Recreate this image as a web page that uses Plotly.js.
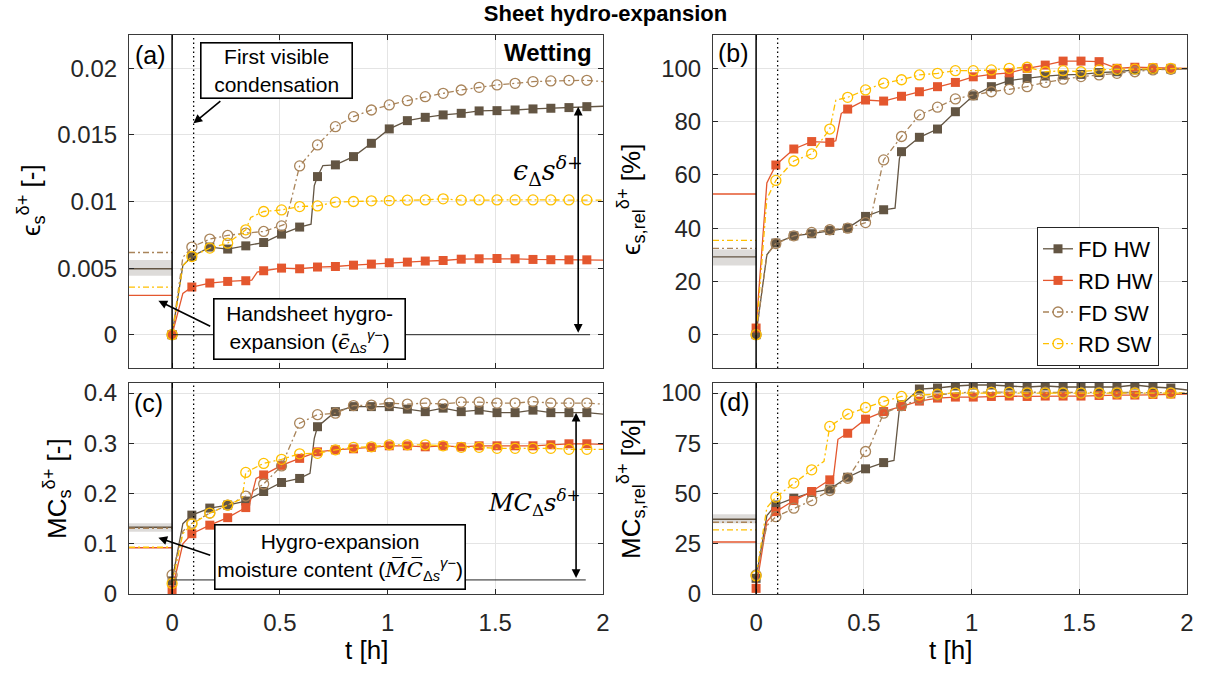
<!DOCTYPE html>
<html><head><meta charset="utf-8">
<script src="https://cdn.plot.ly/plotly-3.0.1.min.js"></script>
<style>html,body{margin:0;padding:0;background:#fff}#chart{width:1211px;height:673px}</style>
</head><body><div id="chart"></div>
<script>
const W = 1211, H = 673;
const seriesNames = ['FD HW', 'RD HW', 'FD SW', 'RD SW'];
// marker times [h]
const tM = [0,0.0917,0.175,0.258,0.342,0.425,0.508,0.592,0.675,0.758,0.842,0.925,1.008,1.092,1.175,1.258,1.342,1.425,1.508,1.592,1.675,1.758,1.842,1.925];

// (a) strain [-]
const aFDHW = [0,0.00587,0.00658,0.00643,0.00667,0.00692,0.00755,0.00808,0.01187,0.01275,0.01337,0.01437,0.01545,0.01607,0.01632,0.0165,0.01662,0.0168,0.01682,0.01687,0.01695,0.0170,0.01705,0.01712];
const aRDHW = [0,0.00358,0.00388,0.0040,0.00405,0.0048,0.0050,0.00495,0.00508,0.00512,0.00522,0.0053,0.0054,0.00545,0.00553,0.00557,0.00567,0.0057,0.00572,0.0057,0.00565,0.00563,0.00562,0.00562];
const aFDSW = [0,0.00658,0.00718,0.00745,0.00763,0.00775,0.00817,0.01267,0.01425,0.01562,0.01637,0.01687,0.01725,0.01757,0.01787,0.01812,0.01837,0.01857,0.01875,0.01887,0.019,0.01905,0.0191,0.0191];
const aRDSW = [0,0.00587,0.0065,0.00687,0.00787,0.00925,0.00937,0.00962,0.00967,0.00995,0.01,0.01005,0.01007,0.0101,0.01012,0.0102,0.0101,0.01012,0.01012,0.01012,0.01012,0.01012,0.01012,0.01012];
// extra curve points (between markers)
const aKt = [[0.05,0.645,0.66,0.70,2],[0.05,0.37,0.395,2],[0.05,0.525,2],[0.05,0.365,2]];
const aKv = [[0.0052,0.0083,0.0112,0.0127,0.01715],[0.0031,0.0041,0.0047,0.0056],[0.0058,0.0083,0.0190],[0.0052,0.0088,0.0101]];
const aRef = [0.00495,0.00295,0.00617,0.00357];
const aBand = [0.00443,0.0056];

// (b) relative strain [%]
const bFDHW = [0,34.4,37.1,37.9,39.1,40,44.4,46.9,68.7,74.1,77.2,83.7,89.7,93.1,95.4,96.2,97.1,97.5,97.7,98.4,98.7,99.4,99.6,99.7];
const bRDHW = [2.5,63.7,69.7,72.5,72.2,84.7,88.1,87.7,89.5,91.2,93.1,94.7,96.8,97.7,98.3,100,101.2,102.7,102.7,102.5,100,100.4,100.2,100];
const bFDSW = [0,34.2,37.1,38.4,39.4,40,42.1,65.6,74.4,82.5,85.4,88.5,90,91.2,92.1,93.1,94.7,95.9,96.9,97.5,98.1,98.7,99.4,99.6];
const bRDSW = [0,57.9,65.2,67.9,77.2,89.1,91.9,94.4,95.7,97.5,98.1,99.1,99.1,99.4,100,100.4,98.7,99.1,98.7,99.4,99.6,99.7,100,100];
const bKt = [[0.05,0.645,0.665,2],[0.05,0.37,0.395,2],[0.05,0.53,2],[0.05,0.37,2]];
const bKv = [[30,47.5,66,99.8],[57,72.8,83,100],[30,43,99.8],[51,88,100]];
const bRef = [29.2,52.8,32.4,35.4];
const bBand = [26,32];

// (c) moisture content [-]
const cFDHW = [0.026,0.157,0.171,0.177,0.185,0.204,0.222,0.230,0.333,0.363,0.373,0.373,0.373,0.368,0.363,0.37,0.363,0.366,0.361,0.361,0.366,0.361,0.361,0.361];
const cRDHW = [0.008,0.12,0.137,0.152,0.172,0.237,0.256,0.27,0.283,0.287,0.289,0.292,0.295,0.295,0.293,0.295,0.293,0.295,0.295,0.295,0.295,0.297,0.299,0.299];
const cFDSW = [0.038,0.141,0.161,0.177,0.195,0.219,0.255,0.34,0.357,0.36,0.375,0.376,0.38,0.378,0.38,0.378,0.382,0.382,0.38,0.38,0.383,0.38,0.38,0.38];
const cRDSW = [0.021,0.139,0.161,0.177,0.242,0.26,0.268,0.279,0.28,0.287,0.292,0.293,0.297,0.297,0.297,0.295,0.292,0.292,0.29,0.29,0.29,0.29,0.288,0.288];
const cKt = [[0.05,0.64,0.66,2],[0.05,0.36,0.39,2],[0.05,2],[0.05,0.325,2]];
const cKv = [[0.14,0.24,0.31,0.358],[0.10,0.18,0.23,0.298],[0.125,0.378],[0.12,0.19,0.288]];
const cRef = [0.133,0.092,0.131,0.093];
const cBand = [0.124,0.141];

// (d) relative moisture content [%]
const dFDHW = [7.8,44.3,47.7,50.5,52.2,58.1,62.3,65.4,94.2,102,102.5,103.5,104,104,103.5,103,103.5,103,103,103,103,104,103,102.5];
const dRDHW = [2.8,41,46.5,51,56.8,80,87,90.8,93.3,96,97.5,98,98,98.3,98.5,98.3,98.5,98.5,98.5,98.8,99,99,99.3,99.5];
const dFDSW = [9.5,38.5,42.7,46.5,51.5,57.6,70.9,90,93.7,97,99,100,100.5,100.5,100.5,100.5,100.5,100.3,100.3,100.3,100.5,100.3,100.3,100.2];
const dRDSW = [9,48.2,55.2,61.8,83.4,89.5,92.8,95.8,98.3,99,99.5,100,100,100.3,100.3,100,100,100,100,100,100,100,100,100];
const dKt = [[0.05,0.64,0.665,2],[0.05,0.36,0.38,2],[0.05,0.53,2],[0.05,0.315,2]];
const dKv = [[39,66.5,92,101.5],[36,59,77,99.5],[34,74,100],[43,66,100]];
const dRef = [37.2,25.9,35.7,31.9];
const dBand = [35.2,39.7];

// tick labels
const xTicks = [0,0.5,1,1.5,2];
const xTickText = ['0','0.5','1','1.5','2'];
const aTicks = [0,0.005,0.01,0.015,0.02], aTickText = ['0','0.005','0.01','0.015','0.02'];
const bTicks = [0,20,40,60,80,100], bTickText = ['0','20','40','60','80','100'];
const cTicks = [0,0.1,0.2,0.3,0.4], cTickText = ['0','0.1','0.2','0.3','0.4'];
const dTicks = [0,25,50,75,100], dTickText = ['0','25','50','75','100'];

const FONT = '"Liberation Sans", Arial, "DejaVu Sans", sans-serif';
const SERIF = '"DejaVu Serif", "Liberation Serif", serif';
const colors = ['#635543', '#e4572e', '#a9845a', '#ffc000'];
const symbols = ['square', 'square', 'circle-open', 'circle-open'];
const dashes = ['solid', 'solid', '6px,3px,2px,3px', '6px,3px,2px,3px'];

const panels = [
  {xa:'x', ya:'y', vals:[aFDHW,aRDHW,aFDSW,aRDSW], kt:aKt, kv:aKv, ref:aRef, band:aBand},
  {xa:'x2', ya:'y2', vals:[bFDHW,bRDHW,bFDSW,bRDSW], kt:bKt, kv:bKv, ref:bRef, band:bBand},
  {xa:'x3', ya:'y3', vals:[cFDHW,cRDHW,cFDSW,cRDSW], kt:cKt, kv:cKv, ref:cRef, band:cBand},
  {xa:'x4', ya:'y4', vals:[dFDHW,dRDHW,dFDSW,dRDSW], kt:dKt, kv:dKv, ref:dRef, band:dBand}
];

const traces = [];
panels.forEach(p => {
  traces.push({type:'scatter', mode:'lines', xaxis:p.xa, yaxis:p.ya,
    x:[-0.2,0,0,-0.2], y:[p.band[0],p.band[0],p.band[1],p.band[1]],
    fill:'toself', fillcolor:'rgba(165,160,155,0.38)', line:{width:0}, showlegend:false, hoverinfo:'skip'});
  for (let i = 0; i < 4; i++) {
    traces.push({type:'scatter', mode:'lines', xaxis:p.xa, yaxis:p.ya,
      x:[-0.2,0], y:[p.ref[i],p.ref[i]],
      line:{color:colors[i], width:1.4, dash:dashes[i]}, showlegend:false, hoverinfo:'skip'});
  }
  for (let i = 0; i < 4; i++) {
    const pts = tM.map((t,j) => [t, p.vals[i][j], 1]);
    p.kt[i].forEach((t,j) => pts.push([t, p.kv[i][j], 0]));
    pts.sort((u,v) => u[0]-v[0]);
    traces.push({type:'scatter', mode:'lines+markers', xaxis:p.xa, yaxis:p.ya,
      x:pts.map(q=>q[0]), y:pts.map(q=>q[1]),
      line:{color:colors[i], width:1.3, dash:dashes[i]},
      marker:{symbol:symbols[i], size:i<2?9:10, color:colors[i], opacity:pts.map(q=>q[2]),
              line:{color:colors[i], width:i<2?0:1.3}},
      showlegend:false, hoverinfo:'skip'});
  }
});
for (let i = 0; i < 4; i++) {
  traces.push({type:'scatter', mode:'lines+markers', xaxis:'x2', yaxis:'y2', x:[null], y:[null],
    name:seriesNames[i], line:{color:colors[i], width:1.3, dash:dashes[i]},
    marker:{symbol:symbols[i], size:i<2?9:10, color:colors[i], line:{color:colors[i], width:i<2?0:1.3}},
    showlegend:true, hoverinfo:'skip'});
}

const px = v => v / W, py = v => 1 - v / H;
const xL = [129/W, 603/W], xR = [713/W, 1187/W];
const yT = [py(368), py(35)], yB = [py(594), py(383)];

function xAxis(dom, anchor, labels) {
  return {domain:dom, anchor:anchor, range:[-0.2,2], tickvals:xTicks, ticktext:xTickText,
    showticklabels:labels, ticks:'inside', ticklen:5, tickcolor:'#262626', tickwidth:1,
    showline:true, linecolor:'#3a3a3a', linewidth:1, mirror:'ticks',
    showgrid:true, gridcolor:'#e4e4e4', gridwidth:1, zeroline:false, ticklabelstandoff:7,
    tickfont:{family:FONT, size:24, color:'#262626'}};
}
function yAxis(dom, anchor, rng, tv, tt) {
  return {domain:dom, anchor:anchor, range:rng, tickvals:tv, ticktext:tt,
    ticks:'inside', ticklen:5, tickcolor:'#262626', tickwidth:1,
    showline:true, linecolor:'#3a3a3a', linewidth:1, mirror:'ticks',
    showgrid:true, gridcolor:'#e4e4e4', gridwidth:1, zeroline:false, ticklabelstandoff:6,
    tickfont:{family:FONT, size:24, color:'#262626'}};
}

const shapes = [];
panels.forEach(p => {
  shapes.push({type:'line', xref:p.xa, yref:p.ya+' domain', x0:0, x1:0, y0:0, y1:1, line:{color:'black', width:1.5}});
  shapes.push({type:'line', xref:p.xa, yref:p.ya+' domain', x0:0.1, x1:0.1, y0:0, y1:1, line:{color:'black', width:1.3, dash:'1.5px,3px'}});
});
shapes.push({type:'line', xref:'x', yref:'y', x0:0, x1:1.94, y0:0, y1:0, line:{color:'#222', width:1}});
shapes.push({type:'line', xref:'x3', yref:'y3', x0:0, x1:1.92, y0:0.028, y1:0.028, line:{color:'#222', width:1}});

const ann = [];
function txt(x, y, text, size, opts) {
  ann.push(Object.assign({xref:'paper', yref:'paper', x:px(x), y:py(y), text:text, showarrow:false,
    xanchor:'center', yanchor:'middle', font:{family:FONT, size:size, color:'black'}}, opts || {}));
}
function arrow(xr, yr, x, y, ax, ay, both) {
  ann.push({xref:xr, yref:yr, axref:xr, ayref:yr, x:x, y:y, ax:ax, ay:ay, text:' ', font:{size:1},
    showarrow:true, arrowhead:2, arrowsize:1.1, arrowwidth:1.6, arrowcolor:'black',
    arrowside: both ? 'end+start' : 'end', startarrowhead:2, startarrowsize:1.1, standoff:0, startstandoff:0});
}
// panel letters
txt(133, 55, '(a)', 25, {xanchor:'left'});
txt(716, 53, '(b)', 25, {xanchor:'left'});
txt(132, 403, '(c)', 25, {xanchor:'left'});
txt(717, 402, '(d)', 25, {xanchor:'left'});
txt(548, 53, '<b>Wetting</b>', 24);
// y titles
txt(31, 200, 'ϵ<sub>s</sub><sup>δ+</sup> [-]', 26, {textangle:-90});
txt(631, 200, 'ϵ<sub>s,rel</sub><sup>δ+</sup> [%]', 26, {textangle:-90});
txt(57, 489, 'MC<sub>s</sub><sup>δ+</sup> [-]', 26, {textangle:-90});
txt(631, 489, 'MC<sub>s,rel</sub><sup>δ+</sup> [%]', 26, {textangle:-90});
// x titles
txt(366, 650, 't [h]', 26);
txt(950, 650, 't [h]', 26);
// text boxes
txt(276, 71, 'First visible<br>condensation', 21,
  {bgcolor:'white', bordercolor:'black', borderwidth:1.6, borderpad:0, width:150, height:54});
txt(310, 328.5, 'Handsheet hygro-<br>expansion (<span style="font-family:DejaVu Serif"><i>ϵ̄</i></span><sub>Δ<i>s</i></sub><sup><i>γ</i>−</sup>)', 21,
  {bgcolor:'white', bordercolor:'black', borderwidth:1.6, borderpad:0, width:190, height:59});
txt(339.5, 556.5, 'Hygro-expansion<br>moisture content (<span style="font-family:DejaVu Serif"><i>M̅C̅</i></span><sub>Δ<i>s</i></sub><sup><i>γ</i>−</sup>)', 21,
  {bgcolor:'white', bordercolor:'black', borderwidth:1.6, borderpad:0, width:249, height:63});
// arrows
arrow('x', 'y', 0.099, 0.01587, 0.231, 0.01762);
arrow('x', 'y', -0.0636, 0.00255, 0.184, 0.00058);
arrow('x3', 'y3', -0.0636, 0.112, 0.184, 0.0763);
arrow('x', 'y', 1.885, 0.01712, 1.885, 0, true);
arrow('x3', 'y3', 1.875, 0.361, 1.875, 0.028, true);
// big math labels
const sf = (s) => ({family:SERIF, size:s, color:'black'});
txt(548, 170, '<i>ϵ</i><sub>Δ</sub><i>s</i><sup><i>δ</i>+</sup>', 27, {font:sf(27), borderpad:0});
txt(534, 502, '<i>MC</i><sub>Δ</sub><i>s</i><sup><i>δ</i>+</sup>', 24, {font:sf(24), borderpad:0});

const layout = {
  width:W, height:H, margin:{l:0, r:0, t:0, b:0}, paper_bgcolor:'white', plot_bgcolor:'white',
  title:{text:'<b>Sheet hydro-expansion</b>', font:{family:FONT, size:22, color:'black'},
    x:0.5, xanchor:'center', xref:'paper', y:py(13), yanchor:'middle', yref:'container'},
  xaxis:xAxis(xL, 'y', false), yaxis:yAxis(yT, 'x', [-0.0025,0.0225], aTicks, aTickText),
  xaxis2:xAxis(xR, 'y2', false), yaxis2:yAxis(yT, 'x2', [-12.5,112.5], bTicks, bTickText),
  xaxis3:xAxis(xL, 'y3', true), yaxis3:yAxis(yB, 'x3', [0,0.42], cTicks, cTickText),
  xaxis4:xAxis(xR, 'y4', true), yaxis4:yAxis(yB, 'x4', [0,105], dTicks, dTickText),
  showlegend:true,
  legend:{x:px(1037), y:py(227), xanchor:'left', yanchor:'top', bgcolor:'white',
    bordercolor:'#262626', borderwidth:1, font:{family:FONT, size:22, color:'black'}, tracegroupgap:0},
  shapes:shapes, annotations:ann
};
Plotly.newPlot('chart', traces, layout, {staticPlot:true, displayModeBar:false});
</script>
</body></html>
